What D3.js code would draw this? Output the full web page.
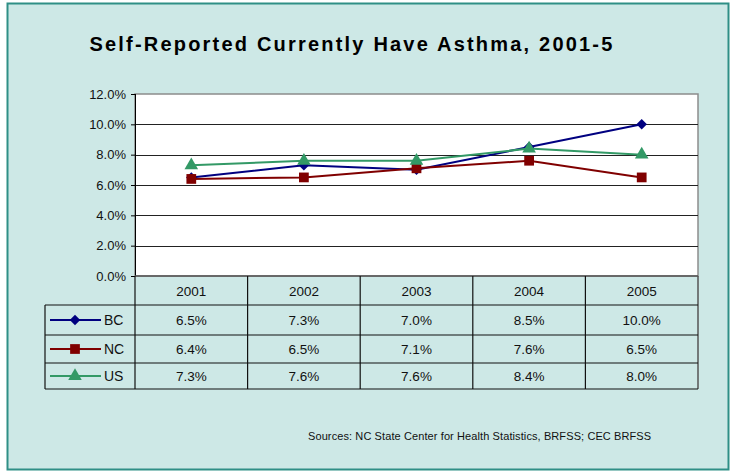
<!DOCTYPE html>
<html>
<head>
<meta charset="utf-8">
<script src="https://cdn.jsdelivr.net/npm/d3@7"></script>
<style>
  body { margin: 0; background: #fff; }
  svg { display: block; font-family: "Liberation Sans", Arial, sans-serif; }
</style>
</head>
<body>
<svg id="chart" width="734" height="473"></svg>
<script>
// chart data
const years = [ "2001", "2002", "2003", "2004", "2005" ];
const seriesNames = [ "BC", "NC", "US" ];
const bcValues = [ 6.5, 7.3, 7.0, 8.5, 10.0 ];
const ncValues = [ 6.4, 6.5, 7.1, 7.6, 6.5 ];
const usValues = [ 7.3, 7.6, 7.6, 8.4, 8.0 ];
const yTicks = [ 0, 2, 4, 6, 8, 10, 12 ];

const series = [
	{ name: seriesNames[0], values: bcValues, color: "#000080", symbol: d3.symbolSquare, size: 55, rotate: 45 },
	{ name: seriesNames[1], values: ncValues, color: "#800000", symbol: d3.symbolSquare, size: 95, rotate: 0 },
	{ name: seriesNames[2], values: usValues, color: "#339966", symbol: d3.symbolTriangle, size: 80, rotate: 0 },
];

let svg = d3.select( "#chart" );

// background and frame
svg.append( "rect" )
	.attr( "x", 7.5 ).attr( "y", 3.5 )
	.attr( "width", 721 ).attr( "height", 466 )
	.attr( "fill", "#cde8e6" )
	.attr( "stroke", "#2f8f86" )
	.attr( "stroke-width", 2 );

svg.append( "text" )
	.attr( "x", 352 ).attr( "y", 51 )
	.attr( "text-anchor", "middle" )
	.attr( "font-size", 20 )
	.attr( "font-weight", "bold" )
	.attr( "letter-spacing", 2.2 )
	.attr( "fill", "#000" )
	.text( "Self-Reported Currently Have Asthma, 2001-5" );

let plot = { left: 135, right: 698, top: 94, bottom: 276 };

let x = d3.scaleBand()
	.domain( years )
	.range( [ plot.left, plot.right ] );

let y = d3.scaleLinear()
	.domain( [ 0, 12 ] )
	.range( [ plot.bottom, plot.top ] );

// plot area
svg.append( "rect" )
	.attr( "x", plot.left ).attr( "y", plot.top )
	.attr( "width", plot.right - plot.left ).attr( "height", plot.bottom - plot.top )
	.attr( "fill", "#fff" )
	.attr( "stroke", "#8c8c8c" )
	.attr( "stroke-width", 1.5 );

// gridlines
svg.append( "g" )
	.selectAll( "line" )
	.data( yTicks.filter( d => d > 0 && d < 12 ) )
	.join( "line" )
		.attr( "x1", plot.left ).attr( "x2", plot.right )
		.attr( "y1", d => Math.round( y( d ) ) + 0.5 )
		.attr( "y2", d => Math.round( y( d ) ) + 0.5 )
		.attr( "stroke", "#222" )
		.attr( "stroke-width", 1 );

// y axis
let yAxis = svg.append( "g" )
		.attr( "transform", "translate(" + plot.left + ",0)" )
		.call( d3.axisLeft( y ).tickValues( yTicks ).tickSize( 4 ).tickPadding( 5 )
			.tickFormat( d => d.toFixed( 1 ) + "%" ) );
yAxis.select( ".domain" ).attr( "stroke", "#000" ).attr( "d", "M0.5," + plot.top + "V" + plot.bottom );
yAxis.selectAll( ".tick line" ).attr( "stroke", "#000" );
yAxis.selectAll( ".tick text" )
	.attr( "font-size", 13 )
	.attr( "fill", "#111" )
	.attr( "font-family", "'Liberation Sans', Arial, sans-serif" );

// x axis bottom line
svg.append( "line" )
	.attr( "x1", plot.left ).attr( "x2", plot.right )
	.attr( "y1", plot.bottom ).attr( "y2", plot.bottom )
	.attr( "stroke", "#555" ).attr( "stroke-width", 1.5 );

// lines
let line = d3.line()
	.x( ( d, i ) => x( years[i] ) + x.bandwidth() / 2 )
	.y( d => y( d ) );

series.forEach( s => {
	svg.append( "path" )
		.datum( s.values )
		.attr( "fill", "none" )
		.attr( "stroke", s.color )
		.attr( "stroke-width", 2 )
		.attr( "d", line );
});

series.forEach( s => {
	svg.append( "g" )
		.selectAll( "path" )
		.data( s.values )
		.join( "path" )
			.attr( "transform", ( d, i ) => "translate(" + ( x( years[i] ) + x.bandwidth() / 2 ) + "," + y( d ) + ") rotate(" + s.rotate + ")" )
			.attr( "d", d3.symbol().type( s.symbol ).size( s.size ) )
			.attr( "fill", s.color );
});

// data table
let rowTop = [ 276, 305, 335, 363, 389 ];
let tableLeft = 45;
let table = svg.append( "g" ).attr( "stroke", "#111" ).attr( "stroke-width", 1.2 );

// vertical lines for year columns
x.domain().forEach( ( yr, i ) => {
	table.append( "line" )
		.attr( "x1", x( yr ) ).attr( "x2", x( yr ) )
		.attr( "y1", plot.bottom ).attr( "y2", rowTop[4] );
});
table.append( "line" )
	.attr( "x1", plot.right ).attr( "x2", plot.right )
	.attr( "y1", plot.bottom ).attr( "y2", rowTop[4] )
	.attr( "stroke", "#555" ).attr( "stroke-width", 1.5 );
table.append( "line" )
	.attr( "x1", tableLeft ).attr( "x2", tableLeft )
	.attr( "y1", rowTop[1] ).attr( "y2", rowTop[4] );
rowTop.slice( 1 ).forEach( ry => {
	table.append( "line" )
		.attr( "x1", tableLeft ).attr( "x2", plot.right )
		.attr( "y1", ry ).attr( "y2", ry );
});

// header years
svg.append( "g" )
	.selectAll( "text" )
	.data( years )
	.join( "text" )
		.attr( "x", d => x( d ) + x.bandwidth() / 2 )
		.attr( "y", ( rowTop[0] + rowTop[1] ) / 2 + 5 )
		.attr( "text-anchor", "middle" )
		.attr( "font-size", 13.5 )
		.attr( "fill", "#111" )
		.text( d => d );

// value cells + legend keys
series.forEach( ( s, r ) => {
	let cy = ( rowTop[r + 1] + rowTop[r + 2] ) / 2;

	svg.append( "g" )
		.selectAll( "text" )
		.data( s.values )
		.join( "text" )
			.attr( "x", ( d, i ) => x( years[i] ) + x.bandwidth() / 2 )
			.attr( "y", cy + 4.5 )
			.attr( "text-anchor", "middle" )
			.attr( "font-size", 13.5 )
			.attr( "fill", "#111" )
			.text( d => d.toFixed( 1 ) + "%" );

	svg.append( "line" )
		.attr( "x1", 50 ).attr( "x2", 101 )
		.attr( "y1", cy ).attr( "y2", cy )
		.attr( "stroke", s.color ).attr( "stroke-width", 2 );
	svg.append( "path" )
		.attr( "transform", "translate(75," + cy + ") rotate(" + s.rotate + ")" )
		.attr( "d", d3.symbol().type( s.symbol ).size( s.size ) )
		.attr( "fill", s.color );
	svg.append( "text" )
		.attr( "x", 104 ).attr( "y", cy + 5 )
		.attr( "font-size", 14 )
		.attr( "fill", "#111" )
		.text( s.name );
});

// source note
svg.append( "text" )
	.attr( "x", 308 ).attr( "y", 440 )
	.attr( "font-size", 11 )
	.attr( "letter-spacing", 0.1 )
	.attr( "fill", "#111" )
	.text( "Sources: NC State Center for Health Statistics, BRFSS; CEC BRFSS" );
</script>
</body>
</html>
